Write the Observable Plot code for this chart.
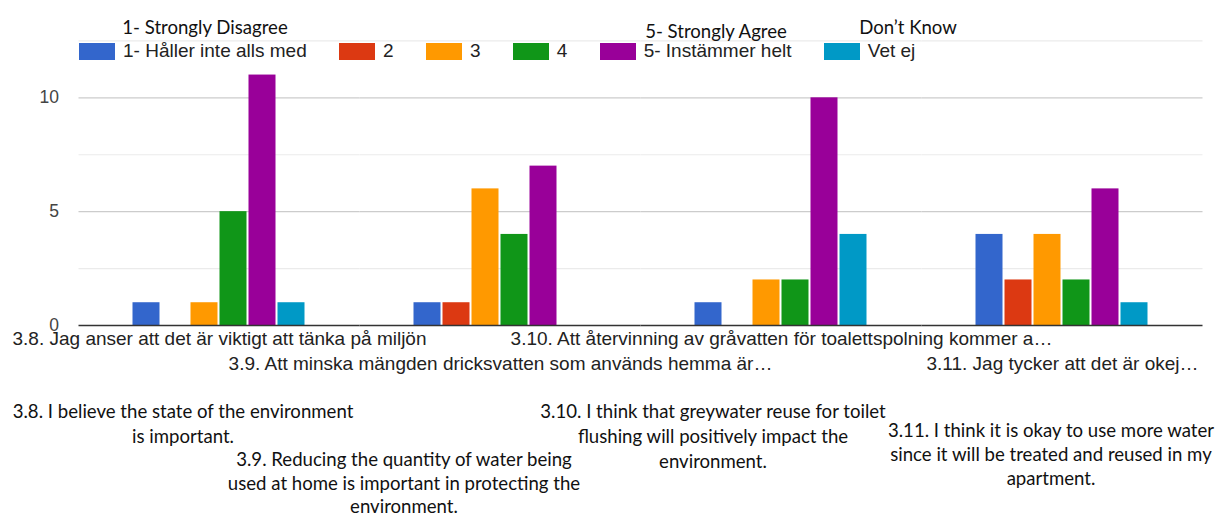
<!DOCTYPE html>
<html>
<head>
<meta charset="utf-8">
<script src="https://cdn.jsdelivr.net/npm/d3@7"></script>
<script src="https://cdn.jsdelivr.net/npm/@observablehq/plot@0.6"></script>
<style>
  body { margin: 0; background: #fff; }
  #wrap { position: relative; width: 1217px; height: 513px; overflow: hidden; }
  #wrap svg.chart { position: absolute; left: 0; top: 0; }
  .note {
    position: absolute; transform: translate(-50%, -50%);
    font-family: Lato, "Noto Sans", sans-serif; font-size: 18.6px; color: #111;
    text-align: center; white-space: nowrap;
  }
  .note.block { transform: translate(-50%, 0); }
  #legend { position: absolute; left: 79px; top: 40px; }
  div.lg-swatches { font-family: "Liberation Sans", Arial, sans-serif; font-size: 19px; color: #222; margin: 0; min-height: 0; display: flex; align-items: center; }
  div.lg-swatches span.lg-swatch { margin-right: 32.3px; }
  div.lg-swatches span.lg-swatch > svg { margin-right: 8px; }
</style>
</head>
<body>
<div id="wrap"></div>
<script>
// Survey questions (axis labels as shown, truncated by the chart)
const questions = [
  "3.8. Jag anser att det är viktigt att tänka på miljön",
  "3.9. Att minska mängden dricksvatten som används hemma är…",
  "3.10. Att återvinning av gråvatten för toalettspolning kommer a…",
  "3.11. Jag tycker att det är okej…"
];
// Answer levels and their colours
const levels = ["1- Håller inte alls med", "2", "3", "4", "5- Instämmer helt", "Vet ej"];
const levelColors = ["#3366cc", "#dc3912", "#ff9900", "#109618", "#990099", "#0099c6"];

// Response counts per level, one array per question
const counts38 = [1, 0, 1, 5, 11, 1];
const counts39 = [1, 1, 6, 4, 7, 0];
const counts310 = [1, 0, 2, 2, 10, 4];
const counts311 = [4, 2, 4, 2, 6, 1];

// Y axis ticks and grid
const yTicks = [0, 5, 10];
const yMinor = [2.5, 7.5, 12.5];

// English translations
const levelNotes = ["1- Strongly Disagree", "5- Strongly Agree", "Don’t Know"];
const questionNotes = [
  ["3.8. I believe the state of the environment", "is important."],
  ["3.9. Reducing the quantity of water being", "used at home is important in protecting the", "environment."],
  ["3.10. I think that greywater reuse for toilet", "flushing will positively impact the", "environment."],
  ["3.11. I think it is okay to use more water", "since it will be treated and reused in my", "apartment."]
];

const allCounts = [counts38, counts39, counts310, counts311];
const rows = [];
questions.forEach((q, qi) => {
  levels.forEach((lv, li) => {
    rows.push({question: q, level: lv, count: allCounts[qi][li]});
  });
});

// Grid rules are drawn in every facet and stretched across the gaps
// between groups so that together they span the whole frame.
const gap = 53.5;

const chart = Plot.plot({
  width: 1217,
  height: 513,
  marginLeft: 78.5,
  marginRight: 14.5,
  marginTop: 40.4,
  marginBottom: 188,
  style: {fontFamily: "'Liberation Sans', Arial, sans-serif", fontSize: "17px", color: "#222", background: "transparent"},
  className: "chart",
  fx: {domain: questions, paddingInner: 0.381, paddingOuter: 0.19, label: null, axis: null},
  x: {domain: levels, paddingInner: 0.06, paddingOuter: 0, axis: null},
  y: {domain: [0, 12.5], axis: null},
  color: {domain: levels, range: levelColors},
  marks: [
    Plot.ruleY(yMinor, {stroke: "#ebebeb", strokeWidth: 1.2, insetLeft: -gap, insetRight: -gap}),
    Plot.ruleY(yTicks.filter(d => d > 0), {stroke: "#cccccc", strokeWidth: 1.2, insetLeft: -gap, insetRight: -gap}),
    Plot.axisY({ticks: yTicks, tickSize: 0, tickPadding: 20 + gap, label: null, fill: "#444", fontSize: 17.5}),
    Plot.barY(rows.filter(d => d.count > 0), {fx: "question", x: "level", y: "count", fill: "level"}),
    Plot.ruleY([0], {stroke: "#333", strokeWidth: 1.6, insetLeft: -gap, insetRight: -gap}),
    Plot.axisFx({anchor: "bottom", ticks: [questions[0], questions[2]], tickSize: 0, tickPadding: 6, label: null, fill: "#222", fontSize: 19}),
    Plot.axisFx({anchor: "bottom", ticks: [questions[1], questions[3]], tickSize: 0, tickPadding: 31, label: null, fill: "#222", fontSize: 19})
  ]
});

const wrap = document.getElementById("wrap");
wrap.appendChild(chart);

// Legend from the colour scale
const legend = Plot.legend({
  color: {domain: levels, range: levelColors},
  legend: "swatches",
  swatchWidth: 36,
  swatchHeight: 17,
  className: "lg"
});
const legendBox = document.createElement("div");
legendBox.id = "legend";
legendBox.appendChild(legend);
wrap.appendChild(legendBox);

// English notes above the legend
const levelNotePos = [[205, 27], [716, 31], [908, 27]];
levelNotes.forEach((t, i) => {
  const d = document.createElement("div");
  d.className = "note";
  d.textContent = t;
  d.style.left = levelNotePos[i][0] + "px";
  d.style.top = levelNotePos[i][1] + "px";
  wrap.appendChild(d);
});

// English translations of the questions below the axis: [centre x, top, line height]
const questionNotePos = [[183, 398.5, 25], [404, 448, 23.6], [713, 398.5, 25], [1051, 418, 24]];
questionNotes.forEach((lines, i) => {
  const d = document.createElement("div");
  d.className = "note block";
  d.innerHTML = lines.map(l => l.replace(/&/g, "&amp;").replace(/</g, "&lt;")).join("<br>");
  d.style.left = questionNotePos[i][0] + "px";
  d.style.top = questionNotePos[i][1] + "px";
  d.style.lineHeight = questionNotePos[i][2] + "px";
  wrap.appendChild(d);
});
</script>
</body>
</html>
